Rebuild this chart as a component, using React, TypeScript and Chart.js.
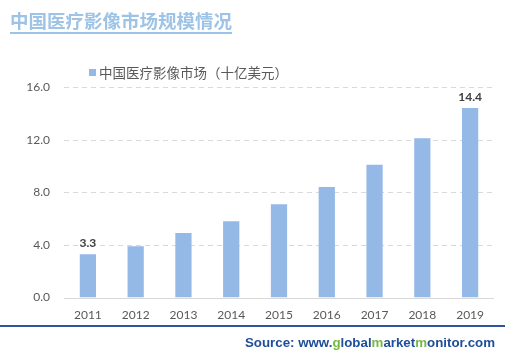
import React, { useEffect, useRef } from "react";
import { Chart, registerables } from "chart.js";

Chart.register(...registerables);

const categories = ["2011", "2012", "2013", "2014", "2015", "2016", "2017", "2018", "2019"];
const marketValues = [3.3, 3.9, 4.9, 5.8, 7.1, 8.4, 10.1, 12.1, 14.4];
const labeledIndices = [0, 8];
const yTicks = [0, 4, 8, 12, 16];
const seriesName = "中国医疗影像市场（十亿美元）";
const titleText = "中国医疗影像市场规模情况";

const BAR_COLOR = "#95b9e7";
const NUM_FONT = "Lato, 'DejaVu Sans', sans-serif";
const CJK_FONT = "'Noto Sans CJK SC', sans-serif";

const valueLabelPlugin = {
  id: "valueLabels",
  afterDatasetsDraw(chart: any) {
    const ctx = chart.ctx;
    const meta = chart.getDatasetMeta(0);
    ctx.save();
    ctx.font = `bold 12px ${NUM_FONT}`;
    ctx.fillStyle = "#404040";
    ctx.textAlign = "center";
    ctx.textBaseline = "bottom";
    labeledIndices.forEach((i) => {
      const el = meta.data[i];
      if (!el) return;
      ctx.fillText(marketValues[i].toFixed(1), el.x, el.y - 5);
    });
    ctx.restore();
  },
};

const dashedGridPlugin = {
  id: "dashedGrid",
  beforeDatasetsDraw(chart: any) {
    const ctx = chart.ctx;
    const y = chart.scales.y;
    const area = chart.chartArea;
    ctx.save();
    ctx.strokeStyle = "#d9d9d9";
    ctx.lineWidth = 1;
    yTicks.forEach((v) => {
      const py = Math.round(y.getPixelForValue(v)) + 0.5;
      ctx.setLineDash(v === 0 ? [] : [5, 4]);
      ctx.beginPath();
      ctx.moveTo(area.left, py);
      ctx.lineTo(area.right, py);
      ctx.stroke();
    });
    ctx.restore();
  },
};

export default function App() {
  const canvasRef = useRef<HTMLCanvasElement | null>(null);

  useEffect(() => {
    document.body.style.margin = "0";
    const canvas = canvasRef.current;
    if (!canvas) return;
    const chart = new Chart(canvas, {
      type: "bar",
      data: {
        labels: categories,
        datasets: [
          {
            label: seriesName,
            data: marketValues,
            backgroundColor: BAR_COLOR,
            borderWidth: 0,
            barPercentage: 0.34,
            categoryPercentage: 1,
          },
        ],
      },
      options: {
        animation: false,
        responsive: false,
        maintainAspectRatio: false,
        layout: { padding: { top: 87, bottom: 25, left: 8, right: 25 } },
        plugins: {
          legend: { display: false },
          title: { display: false },
          tooltip: { enabled: false },
        },
        scales: {
          x: {
            grid: { display: false, drawTicks: false },
            border: { display: false },
            ticks: {
              padding: 10,
              color: "#595959",
              font: { family: NUM_FONT, size: 12 },
            },
          },
          y: {
            min: 0,
            max: 16,
            afterFit: (scale: any) => {
              scale.width = 56;
            },
            afterBuildTicks: (scale: any) => {
              scale.ticks = yTicks.map((v) => ({ value: v }));
            },
            grid: { display: false, drawTicks: false },
            border: { display: false },
            ticks: {
              padding: 14,
              color: "#595959",
              font: { family: NUM_FONT, size: 12 },
              callback: (v: any) => Number(v).toFixed(1),
            },
          },
        },
      },
      plugins: [dashedGridPlugin, valueLabelPlugin],
    });
    return () => chart.destroy();
  }, []);

  return (
    <div style={{ position: "relative", width: 519, height: 357, background: "#ffffff", overflow: "hidden" }}>
      <canvas ref={canvasRef} width={519} height={357} style={{ position: "absolute", left: 0, top: 0 }} />
      <div
        style={{
          position: "absolute",
          left: 10,
          top: 8,
          fontFamily: CJK_FONT,
          fontWeight: 700,
          fontSize: 18.5,
          lineHeight: "24px",
          color: "#9dc3e6",
          borderBottom: "2px solid #9dc3e6",
          whiteSpace: "nowrap",
        }}
      >
        {titleText}
      </div>
      <div
        style={{
          position: "absolute",
          left: 89,
          top: 62,
          display: "flex",
          alignItems: "center",
          fontFamily: CJK_FONT,
          fontSize: 13.5,
          color: "#595959",
          whiteSpace: "nowrap",
        }}
      >
        <span style={{ display: "inline-block", width: 7, height: 7, background: BAR_COLOR, marginRight: 3 }} />
        {seriesName}
      </div>
      <div
        style={{
          position: "absolute",
          left: 0,
          top: 325,
          width: 505,
          height: 2,
          background: "#2f5597",
        }}
      />
      <div
        style={{
          position: "absolute",
          right: 24,
          top: 335,
          fontFamily: "'Liberation Sans', Arial, sans-serif",
          fontWeight: 700,
          fontSize: 13.3,
          color: "#1f4e9a",
          whiteSpace: "nowrap",
        }}
      >
        Source: www.<span style={{ color: "#77b844" }}>g</span>lobal
        <span style={{ color: "#77b844" }}>m</span>arket
        <span style={{ color: "#77b844" }}>m</span>onitor.com
      </div>
    </div>
  );
}
